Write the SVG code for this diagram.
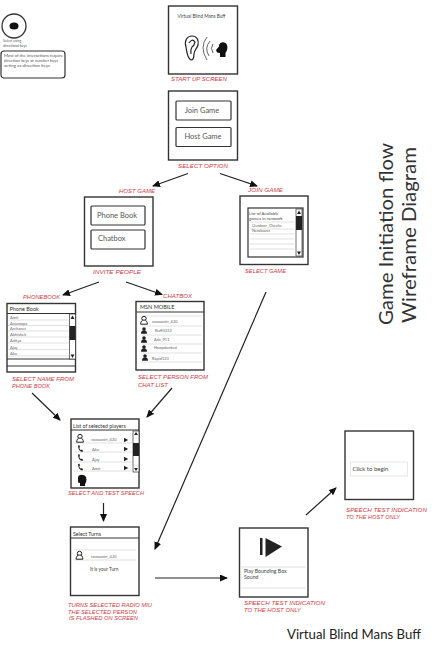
<svg xmlns="http://www.w3.org/2000/svg" width="436" height="645" viewBox="0 0 436 645">
<style>
text{font-family:"Lato","Open Sans","Liberation Sans",sans-serif;fill:#444}
.scr{fill:#fff;stroke:#333;stroke-width:1.4}
.btn{fill:#fff;stroke:#333;stroke-width:1.2}
.ln{fill:none;stroke:#333;stroke-width:1}
.row{fill:none;stroke:#ccc;stroke-width:.6}
.lab{font-family:"Liberation Sans",sans-serif;font-style:italic;font-size:5.6px;fill:#cc3b46}
.t6{font-size:4px;fill:#666}
.conn line{stroke:#222;stroke-width:1.2;marker-end:url(#ah)}
.ic{fill:#222;stroke:none}
.ttl{font-size:20px;fill:#333}
.hlp{font-size:3.500px;fill:#555}
.big{font-size:7.500px;fill:#555}
</style>
<defs>
<marker id="ah" markerWidth="8" markerHeight="7" refX="7" refY="3.500" orient="auto" markerUnits="userSpaceOnUse"><path d="M0 0L8 3.500L0 7Z" fill="#111"/></marker>
<g id="person"><circle cx="0" cy="-2" r="1.800" class="ic"/><path d="M-3 2.800Q-3 -.8 0 -.8Q3 -.8 3 2.800Z" class="ic"/></g>
<g id="personO"><circle cx="0" cy="-2.500" r="2.200" fill="#fff" stroke="#222"/><path d="M-3.400 3.200Q-3.200 -1 0 -1Q3.200 -1 3.400 3.200Z" fill="#fff" stroke="#222"/></g>
<path id="phone" d="M-2 -3.500L-.6 -3.800L0 -1.800L-.8 -1.200Q-.3 .4 1 1.200L1.800 .6L3.200 2L2.200 3Q-1.800 2 -2 -3.500Z" class="ic"/>
<path id="tri" d="M-2 -2.200L2.200 0L-2 2.200Z" class="ic"/>
</defs>

<g id="help">
<circle cx="14" cy="26" r="12" fill="#fff" stroke="#333" stroke-width="1.300"/>
<ellipse cx="14" cy="26" rx="4.500" ry="3.600" fill="#111"/>
<text class="hlp" x="3" y="42">Select using</text>
<text class="hlp" x="3" y="46.500">directional keys</text>
<rect x="1" y="51" width="64" height="27" rx="3" fill="#fff" stroke="#333" stroke-width="1.200"/>
<text class="hlp" x="4" y="56.500" textLength="59" lengthAdjust="spacingAndGlyphs">Most of the interactions require</text>
<text class="hlp" x="4" y="61.500" textLength="54" lengthAdjust="spacingAndGlyphs">direction keys or number keys</text>
<text class="hlp" x="4" y="66.500" textLength="46" lengthAdjust="spacingAndGlyphs">acting as direction keys</text>
</g>

<g id="startup">
<rect class="scr" x="168.500" y="6" width="69" height="68"/>
<text x="201.500" y="18" text-anchor="middle" style="font-size:5.500px" textLength="48" lengthAdjust="spacingAndGlyphs">Virtual Blind Mans Buff</text>
<path d="M191 60C187 58 187 52 186 47C184 41 187 36 192 36C197 36 199 40 198 45C197 49 194 50 194 54C194 57 193 60 191 60ZM189 43Q192 38 195 42Q194 46 192 47Q190 50 191 54" fill="none" stroke="#222" stroke-width="1.200"/>
<path d="M207 37Q199 47 207 60M210 41Q204 48 209 56M213 44Q210 48 213 53" fill="none" stroke="#555" stroke-width=".9"/>
<path d="M216 50L219 46.500L219 45C221 41 226 42 227 45C228 48 227 51 225.500 53L225.500 57L220 57L220 53L217 52.500Z" fill="#111"/>
<text class="lab" x="171" y="81" textLength="56" lengthAdjust="spacingAndGlyphs">START UP SCREEN</text>
</g>

<g id="select-option">
<rect class="scr" x="168.500" y="91" width="69" height="69"/>
<rect class="btn" x="176" y="101" width="55" height="19" rx="1"/>
<rect class="btn" x="176" y="127.500" width="55" height="19" rx="1"/>
<text class="big" x="202" y="113" text-anchor="middle">Join Game</text>
<text class="big" x="203" y="139" text-anchor="middle">Host Game</text>
<text class="lab" x="178" y="168" textLength="50" lengthAdjust="spacingAndGlyphs">SELECT OPTION</text>
</g>

<g id="host-game">
<text class="lab" x="119" y="193" textLength="36" lengthAdjust="spacingAndGlyphs">HOST GAME</text>
<rect class="scr" x="84.500" y="197" width="68.500" height="69"/>
<rect class="btn" x="91" y="206" width="54" height="19" rx="1"/>
<rect class="btn" x="91" y="230" width="54" height="19" rx="1"/>
<text class="big" x="97" y="218">Phone Book</text>
<text class="big" x="98" y="241">Chatbox</text>
<text class="lab" x="93" y="274" textLength="48" lengthAdjust="spacingAndGlyphs">INVITE PEOPLE</text>
</g>

<g id="join-game">
<text class="lab" x="248" y="192" textLength="35" lengthAdjust="spacingAndGlyphs">JOIN GAME</text>
<rect class="scr" x="240" y="196" width="68" height="68.500"/>
<rect class="btn" x="248" y="208" width="55" height="49"/>
<text x="249" y="215" style="font-size:4.300px">List of Available</text>
<text x="249" y="220" style="font-size:4.300px">games in network</text>
<path class="row" d="M250 222H294M250 229H294M250 234H294M250 239H294M250 244H294M250 249H294"/>
<text class="t6" x="252" y="227">Outdoor_Cheche</text>
<text class="t6" x="252" y="232">Newbuzzz</text>
<rect x="296" y="209" width="6" height="47" fill="#fff" stroke="#333" stroke-width=".7"/>
<rect x="296" y="216" width="6" height="14" fill="#222"/>
<path class="ic" d="M299 210.500L301 214H297Z"/>
<path class="ic" d="M299 255L301 251.500H297Z"/>
<text class="lab" x="245" y="273" textLength="41" lengthAdjust="spacingAndGlyphs">SELECT GAME</text>
</g>

<g id="phonebook">
<text class="lab" x="23" y="299" textLength="37" lengthAdjust="spacingAndGlyphs">PHONEBOOK</text>
<rect class="scr" x="7" y="303.500" width="68.500" height="68.500"/>
<path class="ln" d="M7 313.500H75.500M7 359H75.500M7 366H75.500"/>
<text x="9.500" y="311" style="font-size:5.500px;fill:#333">Phone Book</text>
<path class="row" d="M8 320H69M8 325.500H69M8 331H69M8 337H69M8 343H69M8 349.500H69M8 356H69"/>
<text class="t6" x="10" y="319">Amit</text>
<text class="t6" x="10" y="324.500">Anuroopa</text>
<text class="t6" x="10" y="330">Archanet</text>
<text class="t6" x="10" y="336">Abhishek</text>
<text class="t6" x="10" y="342">Aditya</text>
<text class="t6" x="10" y="348.500">Ajay</text>
<text class="t6" x="10" y="355">Aku</text>
<rect x="69.500" y="314" width="6" height="45" fill="#fff" stroke="#333" stroke-width=".7"/>
<rect x="69.500" y="326" width="6" height="14" fill="#222"/>
<path class="ic" d="M72.500 315.500L74.500 319H70.500Z"/>
<path class="ic" d="M72.500 358L74.500 354.500H70.500Z"/>
<text class="lab" x="12" y="381" textLength="62" lengthAdjust="spacingAndGlyphs">SELECT NAME FROM</text>
<text class="lab" x="12" y="387.500" textLength="38" lengthAdjust="spacingAndGlyphs">PHONE BOOK</text>
</g>

<g id="chatbox">
<text class="lab" x="163" y="298" textLength="29" lengthAdjust="spacingAndGlyphs">CHATBOX</text>
<rect class="scr" x="136" y="301.500" width="68" height="68.500"/>
<path class="ln" d="M136 312H204"/>
<text x="140" y="309" style="font-size:5.500px;fill:#333">MSN MOBILE</text>
<path class="row" d="M142 316H202M142 326H202M142 335H202M142 344H202M142 353H202M142 362H202"/>
<use href="#personO" x="144" y="321"/>
<use href="#person" x="144" y="331"/>
<use href="#person" x="144" y="340"/>
<use href="#person" x="144" y="349"/>
<use href="#person" x="145" y="358"/>
<text class="t6" x="152" y="323">coooanirt_420</text>
<text class="t6" x="155" y="332">Buff0332</text>
<text class="t6" x="154" y="341">Ash_911</text>
<text class="t6" x="154" y="349">Hoopdunked</text>
<text class="t6" x="152" y="360">Rapid123</text>
<text class="lab" x="138" y="379" textLength="70" lengthAdjust="spacingAndGlyphs">SELECT PERSON FROM</text>
<text class="lab" x="138" y="386.500" textLength="30" lengthAdjust="spacingAndGlyphs">CHAT LIST</text>
</g>

<g id="selected-players">
<rect class="scr" x="71" y="419" width="68" height="69"/>
<path class="ln" d="M71 430H139"/>
<text x="73" y="428" style="font-size:5.300px;fill:#333">List of selected players</text>
<path class="row" d="M74 443H132M74 452H132M74 462H132M74 471H132"/>
<use href="#personO" x="80" y="439"/>
<use href="#phone" x="80" y="449"/>
<use href="#phone" x="80" y="458"/>
<use href="#phone" x="80" y="467.500"/>
<text class="t6" x="91" y="441">coooanirt_420</text>
<text class="t6" x="92" y="451">Aku</text>
<text class="t6" x="92" y="461">Ajay</text>
<text class="t6" x="92" y="470">Amit</text>
<use href="#tri" x="126" y="440"/>
<use href="#tri" x="126" y="449"/>
<use href="#tri" x="126" y="459"/>
<use href="#tri" x="126" y="468"/>
<rect x="133" y="431" width="6" height="41" fill="#fff" stroke="#333" stroke-width=".7"/>
<rect x="133" y="443" width="6" height="13" fill="#222"/>
<path class="ic" d="M136 432L138 435H134Z"/>
<path class="ic" d="M136 471L138 468H134Z"/>
<path d="M78 478C78 474 84 474 86 477C87 480 86 483 85 484L85 486L80 486L80 483L78 482.500Z" fill="#111"/>
<text class="lab" x="68" y="495" textLength="76" lengthAdjust="spacingAndGlyphs">SELECT AND TEST SPEECH</text>
</g>

<g id="select-turns">
<rect class="scr" x="70.500" y="527" width="68.500" height="68.500"/>
<path class="ln" d="M70.500 538H139"/>
<text x="73" y="536" style="font-size:5.300px;fill:#333">Select Turns</text>
<path class="row" d="M74 550H136M74 560H136"/>
<use href="#personO" x="79.500" y="556"/>
<text class="t6" x="91" y="558">coooanirt_420</text>
<text x="90" y="571" style="font-size:4.800px">It is your Turn</text>
<text class="lab" x="68" y="607" textLength="84" lengthAdjust="spacingAndGlyphs">TURNS SELECTED RADIO MIU</text>
<text class="lab" x="68" y="613.500" textLength="69" lengthAdjust="spacingAndGlyphs">THE SELECTED PERSON</text>
<text class="lab" x="69" y="620" textLength="69" lengthAdjust="spacingAndGlyphs">IS FLASHED ON SCREEN</text>
</g>

<g id="play-sound">
<rect class="scr" x="239.500" y="528" width="68.500" height="69"/>
<rect x="260" y="538" width="2.500" height="17" fill="#222"/>
<path class="ic" d="M265.500 538L282 546.500L265.500 557Z"/>
<path class="row" d="M241 567H306M241 588H306"/>
<text x="244" y="572.500" style="font-size:5.200px">Play Bounding Box</text>
<text x="244" y="579" style="font-size:5.200px">Sound</text>
<text class="lab" x="244" y="605" textLength="81" lengthAdjust="spacingAndGlyphs">SPEECH TEST INDICATION</text>
<text class="lab" x="244" y="611.500" textLength="57" lengthAdjust="spacingAndGlyphs">TO THE HOST ONLY</text>
</g>

<g id="click-to-begin">
<rect class="scr" x="345" y="431" width="68.500" height="68.500"/>
<rect x="350.500" y="462" width="57" height="14" fill="#fff" stroke="#ddd" stroke-width=".7"/>
<text x="352.500" y="470.500" style="font-size:6px">Click to begin</text>
<text class="lab" x="346" y="512" textLength="81" lengthAdjust="spacingAndGlyphs">SPEECH TEST INDICATION</text>
<text class="lab" x="346" y="518.500" textLength="54" lengthAdjust="spacingAndGlyphs">TO THE HOST ONLY</text>
</g>

<g id="connectors" class="conn">
<line x1="188" y1="173.500" x2="153" y2="186"/>
<line x1="220" y1="173.500" x2="257" y2="186"/>
<line x1="99" y1="282" x2="63" y2="295"/>
<line x1="126" y1="282" x2="162" y2="294.500"/>
<line x1="32" y1="393" x2="60" y2="420"/>
<line x1="172" y1="388" x2="147" y2="417"/>
<line x1="103.500" y1="503" x2="103.500" y2="521"/>
<line x1="266" y1="292" x2="155" y2="549"/>
<line x1="155" y1="578" x2="227" y2="578"/>
<line x1="306" y1="515" x2="336" y2="488"/>
</g>

<g id="titles">
<text class="ttl" transform="translate(392.500 325) rotate(-90)" textLength="182" lengthAdjust="spacingAndGlyphs">Game Initiation flow</text>
<text class="ttl" transform="translate(415.500 323) rotate(-90)" textLength="176" lengthAdjust="spacingAndGlyphs">Wireframe Diagram</text>
<text x="287" y="639" style="font-size:13px;fill:#222" textLength="134" lengthAdjust="spacingAndGlyphs">Virtual Blind Mans Buff</text>
</g>
</svg>
